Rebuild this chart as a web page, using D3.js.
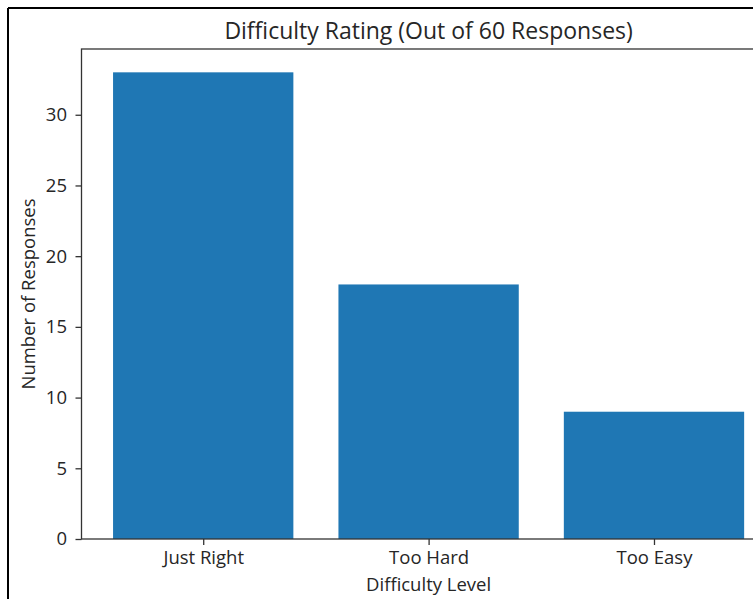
<!DOCTYPE html>
<html><head><meta charset="utf-8">
<script src="https://cdn.jsdelivr.net/npm/d3@7"></script>
<style>body{margin:0;background:#fff;} text{font-family:"Open Sans",sans-serif;fill:#262626;}</style>
</head><body>
<svg id="c" width="753" height="599"></svg>
<script>
const categories = ["Just Right", "Too Hard", "Too Easy"];
const values = [33, 18, 9];
const yTicks = [0, 5, 10, 15, 20, 25, 30];
const title = "Difficulty Rating (Out of 60 Responses)";
const xLabel = "Difficulty Level";
const yLabel = "Number of Responses";

(function(){
const svg = d3.select("#c");
// frame
svg.append("line").attr("x1",8).attr("y1",8).attr("x2",753).attr("y2",8).attr("stroke","#000").attr("stroke-width",2);
svg.append("line").attr("x1",8).attr("y1",8).attr("x2",8).attr("y2",599).attr("stroke","#000").attr("stroke-width",2);

const mL = 81.5, mR = 775.7, mT = 49, mB = 539;
const x = d3.scaleLinear().domain([-0.54, 2.54]).range([mL, mR]);
const y = d3.scaleLinear().domain([0, 34.65]).range([mB, mT]);
const bw = 0.8;

svg.selectAll("rect.bar").data(values).enter().append("rect")
  .attr("class","bar")
  .attr("x",(d,i)=>x(i-bw/2)).attr("width",(d,i)=>x(i+bw/2)-x(i-bw/2))
  .attr("y",d=>y(d)).attr("height",d=>y(0)-y(d))
  .attr("fill","#1f77b4");

// y axis
const yAxis = d3.axisLeft(y).tickValues(yTicks).tickSize(6).tickPadding(8.5).tickFormat(d3.format("d"));
const gy = svg.append("g").attr("transform",`translate(${mL},0)`).call(yAxis);
gy.select(".domain").remove();
gy.selectAll("line").attr("stroke","#333").attr("stroke-width",1.3);
gy.selectAll("text").attr("font-size",18.5).attr("font-family","Open Sans").attr("fill","#262626");

// x axis
const xAxis = d3.axisBottom(x).tickValues([0,1,2]).tickSize(6).tickPadding(6).tickFormat(i=>categories[i]);
const gx = svg.append("g").attr("transform",`translate(0,${mB})`).call(xAxis);
gx.select(".domain").remove();
gx.selectAll("line").attr("stroke","#333").attr("stroke-width",1.3);
gx.selectAll("text").attr("font-size",18.5).attr("font-family","Open Sans").attr("fill","#262626");

// spines
svg.append("rect").attr("x",mL).attr("y",mT).attr("width",mR-mL).attr("height",mB-mT)
  .attr("fill","none").attr("stroke","#333").attr("stroke-width",1.3);

svg.append("text").attr("x",(mL+mR)/2).attr("y",39).attr("text-anchor","middle")
  .attr("font-size",23).text(title);
svg.append("text").attr("x",(mL+mR)/2).attr("y",591).attr("text-anchor","middle")
  .attr("font-size",18.5).text(xLabel);
svg.append("text").attr("transform",`translate(35,${(mT+mB)/2}) rotate(-90)`).attr("text-anchor","middle")
  .attr("font-size",18.5).text(yLabel);
})();
</script>
</body></html>
